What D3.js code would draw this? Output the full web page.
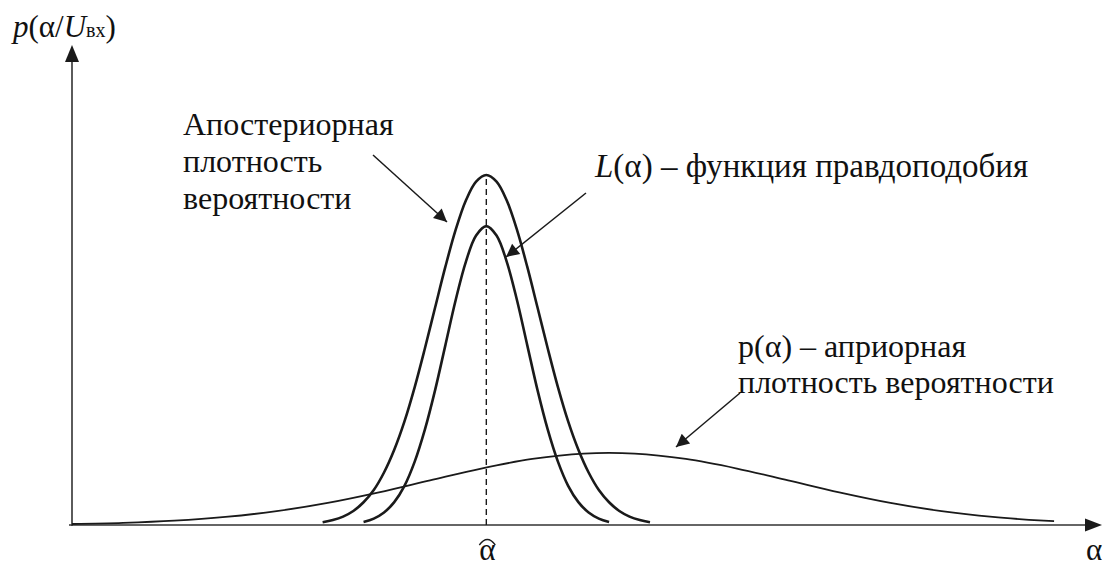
<!DOCTYPE html>
<html><head><meta charset="utf-8">
<script src="https://cdn.jsdelivr.net/npm/d3@7"></script>
<style>html,body{margin:0;padding:0;background:#fff}svg{display:block}</style>
</head><body>
<svg id="c" width="1103" height="567"></svg>
<script>
// ---- data (α units, density relative to posterior peak) ----
const alphaHat = 4.05;
const posteriorX = [2.45,2.55,2.65,2.75,2.85,2.95,3.05,3.15,3.25,3.35,3.45,3.55,3.65,3.75,3.85,3.95,4.05,4.15,4.25,4.35,4.45,4.55,4.65,4.75,4.85,4.95,5.05,5.15,5.25,5.35,5.45,5.55,5.65];
const posteriorY = [0.0077,0.014,0.024,0.040,0.065,0.100,0.150,0.215,0.296,0.394,0.505,0.622,0.738,0.843,0.927,0.981,1.000,0.981,0.927,0.843,0.738,0.622,0.505,0.394,0.296,0.215,0.150,0.100,0.065,0.040,0.024,0.014,0.0077];
const likelihoodX = [2.85,2.95,3.05,3.15,3.25,3.35,3.45,3.55,3.65,3.75,3.85,3.95,4.05,4.15,4.25,4.35,4.45,4.55,4.65,4.75,4.85,4.95,5.05,5.15,5.25];
const likelihoodY = [0.0089,0.0184,0.0358,0.0654,0.112,0.181,0.273,0.386,0.514,0.642,0.752,0.827,0.854,0.827,0.752,0.642,0.514,0.386,0.273,0.181,0.112,0.0654,0.0358,0.0184,0.0089];
const priorX = [0,0.5,1,1.5,2,2.5,3,3.5,4,4.5,5,5.5,6,6.5,7,7.5,8,8.5,9,9.5,9.6];
const priorY = [0.0028,0.0061,0.0123,0.0230,0.0396,0.0633,0.0935,0.1277,0.1614,0.1887,0.2040,0.2040,0.1887,0.1614,0.1277,0.0935,0.0633,0.0396,0.0230,0.0123,0.0108];

const labels = {
  yAxis: ["p","(α/","U","вх",")"],
  xAxis: "α",
  posterior: ["Апостериорная","плотность","вероятности"],
  likelihood: ["L","(α) – функция правдоподобия"],
  prior: ["p(α) – априорная","плотность вероятности"]
};

// ---- drawing ----
const svg = d3.select("#c");
const x = d3.scaleLinear().domain([0,10]).range([72,1095]);
const y = d3.scaleLinear().domain([0,1]).range([525,175]);
const ink = "#1a1a1a";
const FONT = '"Liberation Serif"';

svg.append("defs").append("marker")
  .attr("id","ah").attr("viewBox","0 0 10 10").attr("refX",10).attr("refY",5)
  .attr("markerUnits","userSpaceOnUse").attr("markerWidth",18).attr("markerHeight",13)
  .attr("orient","auto")
  .append("path").attr("d","M0,0L10,5L0,10z").attr("fill",ink);

// axes
svg.append("line").attr("x1",x(0)-3).attr("x2",1086).attr("y1",y(0)).attr("y2",y(0))
  .attr("stroke","#333").attr("stroke-width",1.6);
svg.append("path").attr("d",`M1102,${y(0)}L1085,${y(0)-6.5}L1085,${y(0)+6.5}z`).attr("fill",ink);
svg.append("line").attr("x1",x(0)).attr("x2",x(0)).attr("y1",y(0)+1).attr("y2",60)
  .attr("stroke","#333").attr("stroke-width",1.6);
svg.append("path").attr("d",`M${x(0)},45L${x(0)-7},62L${x(0)+7},62z`).attr("fill",ink);

// dashed line at alpha hat
svg.append("line").attr("x1",x(alphaHat)).attr("x2",x(alphaHat)).attr("y1",y(0)).attr("y2",y(1))
  .attr("stroke",ink).attr("stroke-width",1.4).attr("stroke-dasharray","6,4");

const line = d3.line().x(d=>x(d[0])).y(d=>y(d[1])).curve(d3.curveCatmullRom);
svg.append("path").datum(d3.zip(priorX,priorY)).attr("d",line)
  .attr("fill","none").attr("stroke",ink).attr("stroke-width",1.8);
svg.append("path").datum(d3.zip(posteriorX,posteriorY)).attr("d",line)
  .attr("fill","none").attr("stroke",ink).attr("stroke-width",2.6);
svg.append("path").datum(d3.zip(likelihoodX,likelihoodY)).attr("d",line)
  .attr("fill","none").attr("stroke",ink).attr("stroke-width",2.6);

// annotation arrows
function arrow(x1,y1,x2,y2){
  svg.append("line").attr("x1",x1).attr("y1",y1).attr("x2",x2).attr("y2",y2)
    .attr("stroke",ink).attr("stroke-width",1.5).attr("marker-end","url(#ah)");
}
arrow(373,155,447,222);
arrow(586,193,506,257);
arrow(740,393,676,447);

const fs = 32;
const T = (sel)=>sel.attr("fill","#111").style("font-family",FONT);
// y axis label
const yl = T(svg.append("text").attr("x",13).attr("y",37).attr("font-size",31));
T(yl.append("tspan").attr("font-style","italic").text(labels.yAxis[0]));
T(yl.append("tspan").text(labels.yAxis[1]));
T(yl.append("tspan").attr("font-style","italic").text(labels.yAxis[2]));
T(yl.append("tspan").attr("font-size",20).text(labels.yAxis[3]));
T(yl.append("tspan").text(labels.yAxis[4]));

// x axis labels
T(svg.append("text").attr("x",1094).attr("y",560).attr("text-anchor","middle").attr("font-size",31).text(labels.xAxis));
T(svg.append("text").attr("x",x(alphaHat)+1).attr("y",560).attr("text-anchor","middle").attr("font-size",31).text(labels.xAxis));
svg.append("path").attr("d",`M${x(alphaHat)-7},${545}Q${x(alphaHat)+1},${534} ${x(alphaHat)+9},${545}`)
  .attr("fill","none").attr("stroke",ink).attr("stroke-width",1.3);

// posterior label
labels.posterior.forEach((t,i)=>{
  T(svg.append("text").attr("x",183).attr("y",135+i*37).attr("font-size",fs).text(t));
});
// likelihood label
const ll = T(svg.append("text").attr("x",595).attr("y",177).attr("font-size",33));
T(ll.append("tspan").attr("font-style","italic").text(labels.likelihood[0]));
T(ll.append("tspan").text(labels.likelihood[1]));
// prior label
labels.prior.forEach((t,i)=>{
  T(svg.append("text").attr("x",738).attr("y",357+i*36).attr("font-size",fs).text(t));
});
</script>
</body></html>
